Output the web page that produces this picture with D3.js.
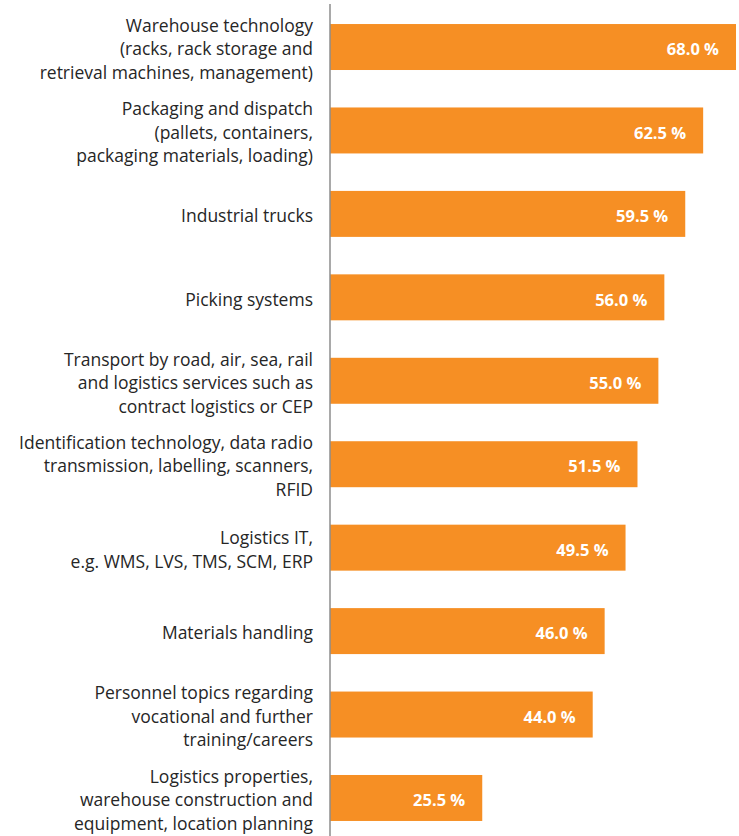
<!DOCTYPE html>
<html>
<head>
<meta charset="utf-8">
<script src="https://cdn.jsdelivr.net/npm/d3@7"></script>
<style>
	body { margin: 0; background: #fff; }
	svg { display: block; }
	.label { font-family: "Open Sans", sans-serif; font-size: 17.5px; fill: #262626; }
	.value { font-family: "Open Sans", sans-serif; font-size: 16.5px; font-weight: bold; fill: #fff; }
</style>
</head>
<body>
<div id="chart"></div>
<script>
// categories, each split in its display lines
const categories = [
	["Warehouse technology", "(racks, rack storage and", "retrieval machines, management)"],
	["Packaging and dispatch", "(pallets, containers,", "packaging materials, loading)"],
	["Industrial trucks"],
	["Picking systems"],
	["Transport by road, air, sea, rail", "and logistics services such as", "contract logistics or CEP"],
	["Identification technology, data radio", "transmission, labelling, scanners,", "RFID"],
	["Logistics IT,", "e.g. WMS, LVS, TMS, SCM, ERP"],
	["Materials handling"],
	["Personnel topics regarding", "vocational and further", "training/careers"],
	["Logistics properties,", "warehouse construction and", "equipment, location planning"]
];
const values = [68.0, 62.5, 59.5, 56.0, 55.0, 51.5, 49.5, 46.0, 44.0, 25.5];

const width = 739,
	height = 836,
	axisX = 330,
	lineHeight = 23.5;

const svg = d3.select('#chart')
	.append('svg')
	.attr('width', width)
	.attr('height', height);

// y scale: one band per category
const y = d3.scaleBand()
	.domain(d3.range(values.length))
	.range([5.3, 839.7])
	.paddingInner(0.449)
	.paddingOuter(0.2245);

// x scale: 0..68 maps to the axis line .. right edge
const x = d3.scaleLinear()
	.domain([0, 68])
	.range([axisX, 736]);

// bars
svg.selectAll('.bar')
	.data(values)
	.enter()
	.append('rect')
		.attr('class', 'bar')
		.attr('x', x(0))
		.attr('y', (d, i) => y(i))
		.attr('width', d => x(d) - x(0))
		.attr('height', y.bandwidth())
		.attr('fill', '#f68f24');

// value labels inside bar ends
svg.selectAll('.value')
	.data(values)
	.enter()
	.append('text')
		.attr('class', 'value')
		.attr('x', d => x(d) - 17)
		.attr('y', (d, i) => y(i) + y.bandwidth() / 2)
		.attr('dy', '0.5em')
		.attr('text-anchor', 'end')
		.text(d => d.toFixed(1) + ' %');

// category labels, multi-line, right aligned
const labels = svg.selectAll('.label')
	.data(categories)
	.enter()
	.append('text')
		.attr('class', 'label')
		.attr('text-anchor', 'end');

labels.each(function(lines, i) {
	const cy = y(i) + y.bandwidth() / 2;
	d3.select(this).selectAll('tspan')
		.data(lines)
		.enter()
		.append('tspan')
			.attr('x', 313)
			.attr('y', (l, j) => cy + (j - (lines.length - 1) / 2) * lineHeight)
			.attr('dy', '0.47em')
			.text(l => l);
});

// vertical axis line
svg.append('line')
	.attr('x1', axisX)
	.attr('x2', axisX)
	.attr('y1', 4)
	.attr('y2', height)
	.attr('stroke', '#8c8c8c')
	.attr('stroke-width', 1.5);
</script>
</body>
</html>
